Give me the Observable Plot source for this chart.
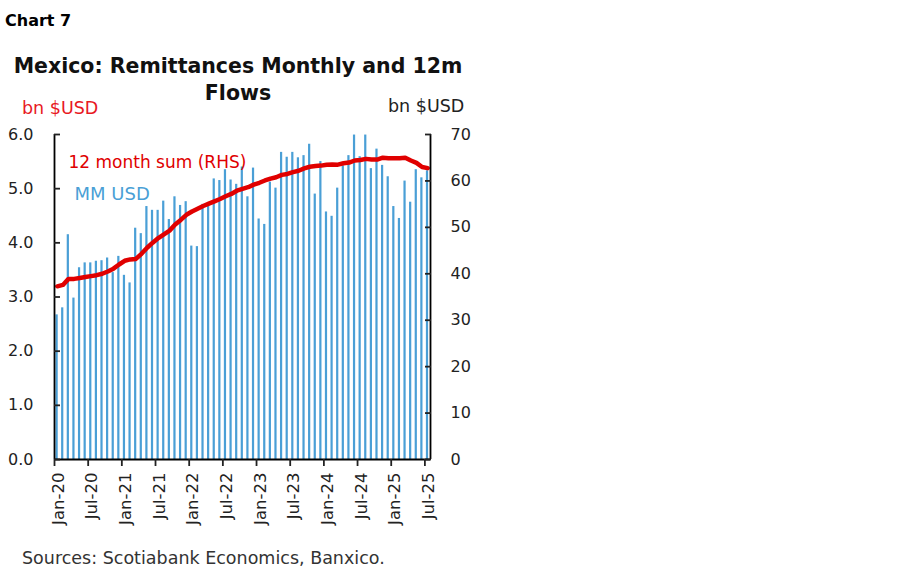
<!DOCTYPE html>
<html>
<head>
<meta charset="utf-8">
<script src="https://cdn.jsdelivr.net/npm/d3@7"></script>
<script src="https://cdn.jsdelivr.net/npm/@observablehq/plot@0.6"></script>
<style>
  html, body { margin: 0; padding: 0; background: #fff; }
  body { width: 899px; height: 579px; position: relative; overflow: hidden; font-family: "DejaVu Sans", sans-serif; }
  .t { position: absolute; white-space: nowrap; line-height: 1; }
  #chartno { left: 5px; top: 12.5px; font-size: 16px; font-weight: 700; color: #000; }
  #title { left: 0; top: 53px; width: 476px; text-align: center; font-size: 20.5px; font-weight: 700; color: #111; line-height: 27px; }
  #ylab { left: 22px; top: 99.5px; font-size: 17.5px; color: #e8191f; }
  #y2lab { left: 388px; top: 98px; font-size: 17.5px; color: #222; }
  #src { left: 22px; top: 550px; font-size: 17.5px; color: #333; }
  #plot { position: absolute; left: 0; top: 120px; }
</style>
</head>
<body>
<div class="t" id="chartno">Chart 7</div>
<div class="t" id="title">Mexico: Remittances Monthly and 12m<br>Flows</div>
<div class="t" id="ylab">bn $USD</div>
<div class="t" id="y2lab">bn $USD</div>
<div class="t" id="src">Sources: Scotiabank Economics, Banxico.</div>
<div id="plot"></div>
<script>
// Monthly remittances, bn USD (Jan-2020 .. Jul-2025)
const monthly = [
  2.67, 2.80, 4.15, 2.98, 3.54, 3.63, 3.63, 3.66, 3.67, 3.72, 3.45, 3.75,
  3.40, 3.26, 4.27, 4.17, 4.67, 4.60, 4.60, 4.77, 4.43, 4.85, 4.69, 4.76,
  3.94, 3.93, 4.71, 4.70, 5.18, 5.15, 5.35, 5.16, 5.08, 5.40, 4.85, 5.38,
  4.44, 4.34, 5.12, 5.01, 5.67, 5.58, 5.67, 5.57, 5.61, 5.82, 4.90, 5.50,
  4.57, 4.49, 5.01, 5.42, 5.61, 5.99, 5.59, 5.99, 5.37, 5.73, 5.43, 5.22,
  4.67, 4.45, 5.14, 4.75, 5.35, 5.20, 5.33
];
// 12 month sum, bn USD (RHS)
const sum12 = [
  37.3, 37.6, 38.9, 38.9, 39.1, 39.3, 39.5, 39.7, 40.0, 40.5, 41.1, 42.0,
  42.8, 43.1, 43.2, 44.3, 45.6, 46.7, 47.7, 48.5, 49.3, 50.6, 51.6, 52.7,
  53.4, 54.0, 54.6, 55.1, 55.6, 56.1, 56.7, 57.2, 57.9, 58.3, 58.65, 59.2,
  59.6, 60.1, 60.5, 60.8, 61.3, 61.5, 61.9, 62.2, 62.7, 63.05, 63.2, 63.3,
  63.5, 63.55, 63.5, 63.8, 63.95, 64.4, 64.5, 64.75, 64.6, 64.6, 65.0, 64.9,
  64.9, 64.9, 65.0, 64.4, 63.9, 63.0, 62.75
];
const tickLabels = ["Jan-20","Jul-20","Jan-21","Jul-21","Jan-22","Jul-22","Jan-23","Jul-23","Jan-24","Jul-24","Jan-25","Jul-25"];
const leftTicks = [0, 1, 2, 3, 4, 5, 6];
const rightTicks = [0, 10, 20, 30, 40, 50, 60, 70];
const leftMax = 6, rightMax = 70;

const n = monthly.length;
const toLeft = v => v * leftMax / rightMax;
const barData = monthly.map((v, i) => ({i, v}));
const lineData = sum12.map((s, i) => ({x: i + 0.5, y: toLeft(s)}));
const xTicks = tickLabels.map((_, k) => k * 6);

const RED = "#e00000", BLUE = "#4a9fd6", FONT = "DejaVu Sans, sans-serif";

const chart = Plot.plot({
  width: 500,
  height: 420,
  marginLeft: 54,
  marginRight: 70,
  marginTop: 14,
  marginBottom: 81,
  style: {fontFamily: FONT, fontSize: "15px", color: "#222", background: "transparent"},
  x: {domain: [0, n], label: null},
  y: {domain: [0, leftMax], label: null},
  marks: [
    Plot.rectY(barData, {x: "i", interval: 1, y: "v", fill: BLUE, insetLeft: 1.5, insetRight: 1.9}),
    Plot.line(lineData, {x: "x", y: "y", stroke: RED, strokeWidth: 4.5, curve: "linear"}),
    Plot.ruleX([0, n], {stroke: "#000", strokeWidth: 1.8}),
    Plot.ruleY([0], {stroke: "#000", strokeWidth: 1.8}),
    // left axis
    Plot.axisY(leftTicks, {anchor: "left", tickSize: 0, tickPadding: 21, tickFormat: d3.format(".1f"), fontSize: 16, label: null}),
    Plot.axisY(leftTicks, {anchor: "left", tickSize: 6, dx: 6, tickFormat: () => "", strokeWidth: 1.8, label: null}),
    // right axis
    Plot.axisY(rightTicks.map(toLeft), {anchor: "right", tickSize: 0, tickPadding: 20, tickFormat: d => Math.round(d * rightMax / leftMax), fontSize: 16, label: null}),
    Plot.axisY(rightTicks.map(toLeft), {anchor: "right", tickSize: 6, dx: -6, tickFormat: () => "", strokeWidth: 1.8, label: null}),
    // x axis
    Plot.axisX(xTicks, {anchor: "bottom", tickSize: 7, tickFormat: () => "", strokeWidth: 1.8, label: null}),
    Plot.axisX(xTicks, {anchor: "bottom", tickSize: 0, tickPadding: 13, tickRotate: -90, dx: 4, tickFormat: i => tickLabels[i / 6], fontSize: 16.5, label: null}),
    // legend labels
    Plot.text(["12 month sum (RHS)"], {frameAnchor: "top-left", dx: 14, dy: 21, text: d => d, fill: RED, fontSize: 17, textAnchor: "start"}),
    Plot.text(["MM USD"], {frameAnchor: "top-left", dx: 20, dy: 53, text: d => d, fill: BLUE, fontSize: 18, textAnchor: "start"})
  ]
});
document.getElementById("plot").appendChild(chart);
</script>
</body>
</html>
